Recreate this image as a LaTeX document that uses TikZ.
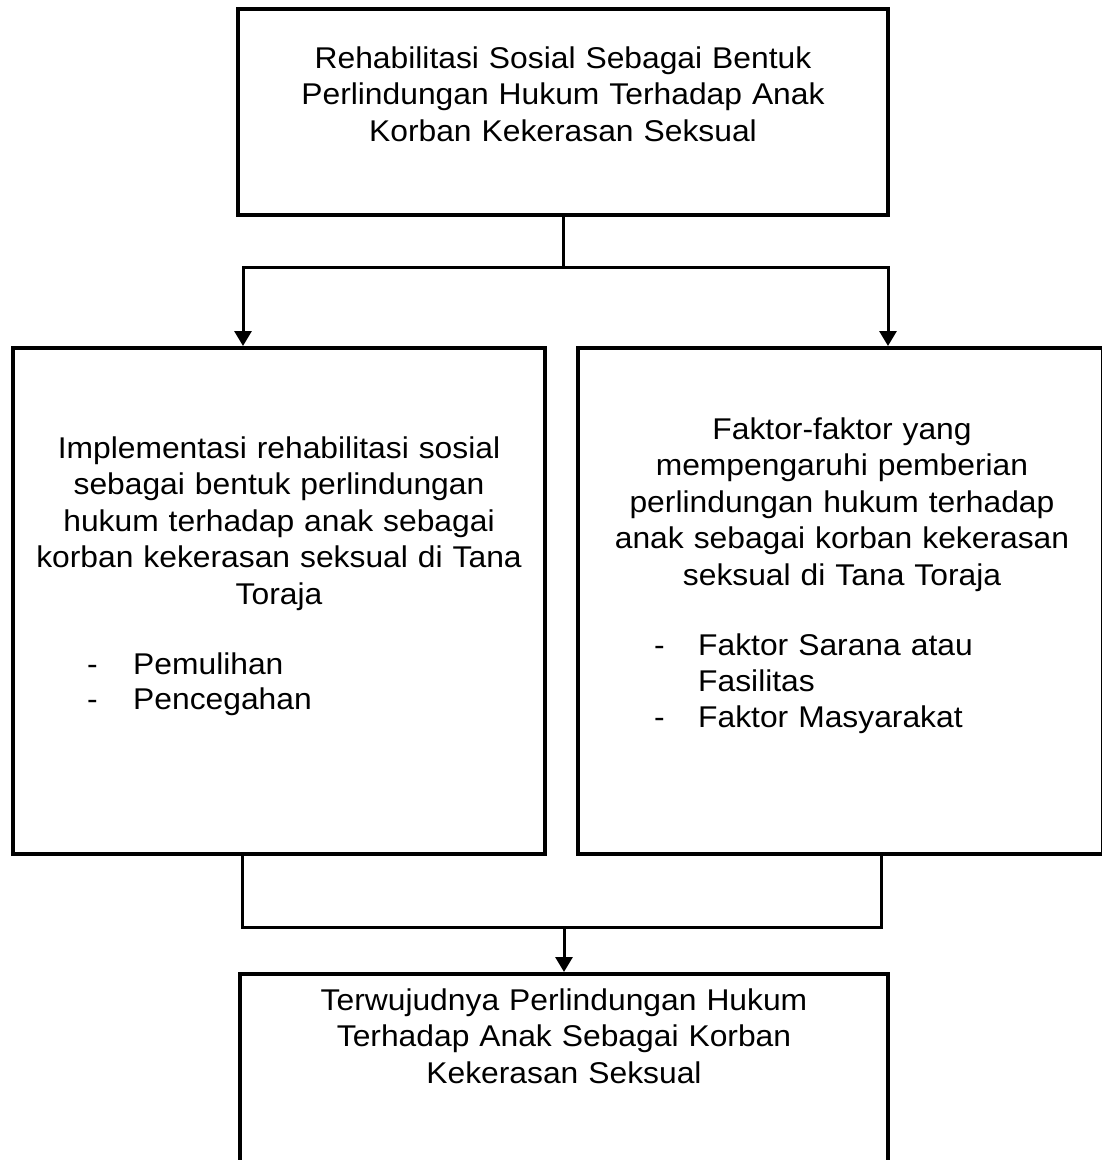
\documentclass[tikz,border=0pt]{standalone}
\usepackage{fontspec}
\setmainfont{Liberation Sans}[FakeStretch=1.06]
\usetikzlibrary{arrows.meta}
\begin{document}
\begin{tikzpicture}[x=1pt,y=-1pt,
  box/.style={draw, line width=4pt, inner sep=0pt, rectangle},
  conn/.style={line width=3pt},
  arr/.style={conn, -{Triangle[width=17pt,length=15pt]}},
  txt/.style={font=\fontsize{30}{36.5}\selectfont, align=center, text width=640pt, inner sep=0pt, anchor=base},
  item/.style={font=\fontsize{30}{36.5}\selectfont, align=left, text width=380pt, inner sep=0pt, anchor=base west},
  bulletmark/.style={font=\fontsize{30}{36.5}\selectfont, inner sep=0pt, anchor=base west}]
\useasboundingbox (0,0) rectangle (1102,1160);
% boxes
\node[box, minimum width=650pt, minimum height=206pt] (top) at (563,112) {};
\node[box, minimum width=532pt, minimum height=506pt] (left) at (279,601) {};
\node[box, minimum width=525pt, minimum height=506pt] (right) at (840.5,601) {};
\node[box, minimum width=648pt, minimum height=196pt] (bottom) at (564,1072) {};
% texts
\node[txt] (ttop) at (563,68) {Rehabilitasi Sosial Sebagai Bentuk\\Perlindungan Hukum Terhadap Anak\\Korban Kekerasan Seksual};
\node[txt] (tleft) at (279,458) {Implementasi rehabilitasi sosial\\sebagai bentuk perlindungan\\hukum terhadap anak sebagai\\korban kekerasan seksual di Tana\\Toraja};
\node[bulletmark] (ld1) at (87,674) {-};
\node[item] (li1) at (133,674) {Pemulihan};
\node[bulletmark] (ld2) at (87,709) {-};
\node[item] (li2) at (133,709) {Pencegahan};
\node[txt] (tright) at (842,439) {Faktor-faktor yang\\mempengaruhi pemberian\\perlindungan hukum terhadap\\anak sebagai korban kekerasan\\seksual di Tana Toraja};
\node[bulletmark] (rd1) at (654,655) {-};
\node[item] (ri1) at (698,655) {Faktor Sarana atau\\Fasilitas};
\node[bulletmark] (rd2) at (654,727) {-};
\node[item] (ri2) at (698,727) {Faktor Masyarakat};
\node[txt] (tbottom) at (564,1010) {Terwujudnya Perlindungan Hukum\\Terhadap Anak Sebagai Korban\\Kekerasan Seksual};
% connectors
\coordinate (split) at (563,267);
\coordinate (merge) at (564,927);
\draw[conn] (top.south) -- (split);
\draw[arr] (split) -| ([xshift=-36pt]left.north);
\draw[arr] (split) -| ([xshift=47.5pt]right.north);
\draw[conn] ([xshift=-37pt]left.south) |- (merge);
\draw[conn] ([xshift=40.5pt]right.south) |- (merge);
\draw[arr] (merge) -- (bottom.north);
\end{tikzpicture}
\end{document}
